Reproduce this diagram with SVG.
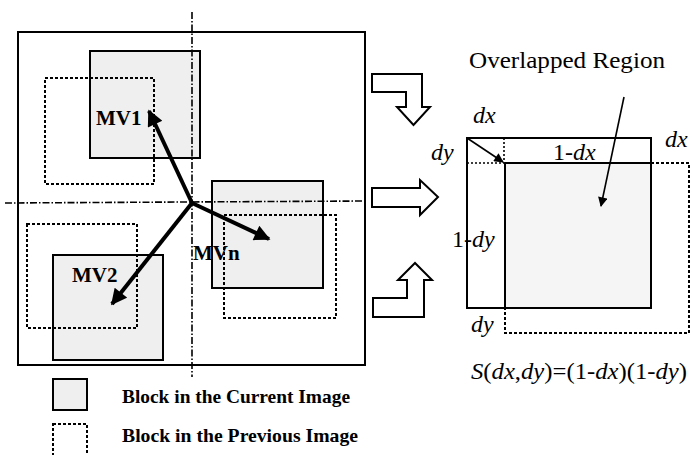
<svg xmlns="http://www.w3.org/2000/svg" width="693" height="455" viewBox="0 0 693 455">
<defs>
<style>
.frame{fill:none;stroke:#000;stroke-width:2}
.cur{fill:#efefef;stroke:#000;stroke-width:2}
.prev{fill:none;stroke:#000;stroke-width:2;stroke-dasharray:3 2}
.axis{fill:none;stroke:#000;stroke-width:1.6;stroke-dasharray:7 2 1.5 2}
.mv{stroke:#000;stroke-width:4;fill:none}
.blk{fill:#fff;stroke:#000;stroke-width:2;stroke-linejoin:miter}
.thin{stroke:#000;stroke-width:1.6;fill:none}
.dot{stroke:#000;stroke-width:1.6;fill:none;stroke-dasharray:2 2}
.lbl{font-family:"Liberation Serif","Times New Roman",serif;font-weight:bold;font-size:21px;fill:#000}
.leg{font-family:"Liberation Serif","Times New Roman",serif;font-weight:bold;font-size:19px;fill:#000}
.txt{font-family:"Liberation Serif","Times New Roman",serif;font-size:24px;fill:#000}
.it{font-style:italic}
</style>
<marker id="ah" viewBox="0 0 10 10" refX="9" refY="5" markerWidth="4.5" markerHeight="4" orient="auto" markerUnits="strokeWidth">
<path d="M0,0 L10,5 L0,10 z" fill="#000"/>
</marker>
<marker id="ahs" viewBox="0 0 10 10" refX="9" refY="5" markerWidth="7" markerHeight="6" orient="auto" markerUnits="strokeWidth">
<path d="M0,0 L10,5 L0,10 z" fill="#000"/>
</marker>
</defs>

<g id="frame">
<rect class="frame" x="18" y="32" width="347" height="333"/>
</g>

<g id="block-mv1">
<rect class="cur" x="90" y="51" width="110" height="107"/>
<rect class="prev" x="45" y="78" width="109" height="106"/>
<text class="lbl" x="96" y="125">MV1</text>
</g>

<g id="block-mvn">
<rect class="cur" x="212" y="181" width="111" height="107"/>
<rect class="prev" x="224" y="215" width="112" height="103"/>
<text class="lbl" x="193" y="260">MVn</text>
</g>

<g id="block-mv2">
<rect class="cur" x="53" y="255" width="110" height="105"/>
<rect class="prev" x="27" y="224" width="110" height="104"/>
<text class="lbl" x="72" y="282">MV2</text>
</g>

<g id="block-arrows">
<path class="blk" d="M372,74 L422,74 L422,107 L430,107 L413.5,125 L397,107 L406,107 L406,92 L372,92 Z"/>
<path class="blk" d="M372,188 L420,188 L420,180 L438,197 L420,215 L420,207 L372,207 Z"/>
<path class="blk" d="M373,317 L424,317 L424,280 L432,280 L415,263 L398,280 L407,280 L407,298 L373,298 Z"/>
</g>

<g id="overlap-diagram">
<rect x="505" y="163" width="146" height="145" fill="#f5f5f5"/>
<rect class="frame" x="467" y="138" width="184" height="170"/>
<line class="frame" x1="505" y1="163" x2="651" y2="163"/>
<line class="frame" x1="505" y1="163" x2="505" y2="308"/>
<line class="dot" x1="467" y1="163" x2="505" y2="163"/>
<line class="dot" x1="504" y1="138" x2="504" y2="163"/>
<path class="prev" d="M651,163 L689,163 L689,333 L505,333 L505,308"/>
<text class="txt" x="469" y="68" textLength="196" lengthAdjust="spacingAndGlyphs">Overlapped Region</text>
<text class="txt it" x="473" y="123">dx</text>
<text class="txt it" x="431" y="160">dy</text>
<text class="txt" x="553" y="160">1-<tspan class="it">dx</tspan></text>
<text class="txt it" x="665" y="147">dx</text>
<text class="txt" x="452" y="247">1-<tspan class="it">dy</tspan></text>
<text class="txt it" x="471" y="332">dy</text>
<text class="txt" x="471" y="379" textLength="216" lengthAdjust="spacingAndGlyphs"><tspan class="it">S</tspan>(<tspan class="it">dx</tspan>,<tspan class="it">dy</tspan>)=(1-<tspan class="it">dx</tspan>)(1-<tspan class="it">dy</tspan>)</text>
</g>

<g id="legend-current">
<rect class="cur" x="53" y="379" width="34" height="31"/>
<text class="leg" x="122" y="403" textLength="228" lengthAdjust="spacingAndGlyphs">Block in the Current Image</text>
</g>

<g id="legend-previous">
<rect class="prev" x="53" y="424" width="34" height="32"/>
<text class="leg" x="122" y="442" textLength="236" lengthAdjust="spacingAndGlyphs">Block in the Previous Image</text>
</g>

<g id="connectors">
<line class="axis" x1="192" y1="12" x2="192" y2="377"/>
<line class="axis" x1="5" y1="203" x2="365" y2="201"/>
<line class="mv" x1="192" y1="203" x2="149" y2="111" marker-end="url(#ah)"/>
<line class="mv" x1="192" y1="203" x2="269" y2="239" marker-end="url(#ah)"/>
<line class="mv" x1="192" y1="203" x2="112" y2="304" marker-end="url(#ah)"/>
<line class="thin" x1="624" y1="97" x2="601" y2="206" marker-end="url(#ahs)"/>
<line class="thin" x1="467" y1="138" x2="503" y2="162" marker-end="url(#ahs)"/>
</g>
</svg>
